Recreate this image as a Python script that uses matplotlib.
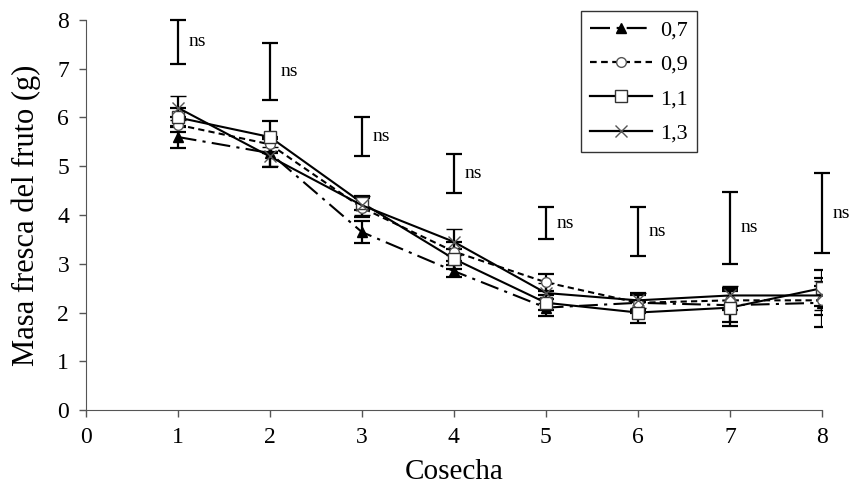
import matplotlib.pyplot as plt
from matplotlib.lines import Line2D

plt.rcParams['font.family'] = ['Liberation Serif', 'DejaVu Serif']

cosecha = [1, 2, 3, 4, 5, 6, 7, 8]

# medias por tratamiento
m07 = [5.6, 5.27, 3.65, 2.85, 2.1, 2.2, 2.15, 2.2]
m09 = [5.85, 5.45, 4.15, 3.25, 2.62, 2.2, 2.25, 2.25]
m11 = [6.0, 5.6, 4.25, 3.1, 2.2, 2.0, 2.1, 2.5]
m13 = [6.2, 5.2, 4.2, 3.45, 2.4, 2.25, 2.35, 2.35]

# errores
e07 = [0.22, 0.28, 0.22, 0.13, 0.17, 0.2, 0.35, 0.5]
e09 = [0.15, 0.15, 0.2, 0.2, 0.18, 0.15, 0.2, 0.3]
e11 = [0.2, 0.33, 0.15, 0.2, 0.15, 0.22, 0.38, 0.37]
e13 = [0.25, 0.2, 0.2, 0.26, 0.2, 0.15, 0.2, 0.3]

# barras "ns"
ns_bajo = [7.1, 6.35, 5.2, 4.45, 3.5, 3.15, 3.0, 3.22]
ns_alto = [8.0, 7.52, 6.0, 5.25, 4.17, 4.17, 4.47, 4.86]

etiquetas = ['0,7', '0,9', '1,1', '1,3']

fig = plt.figure(figsize=(8.5, 4.87), dpi=100)
ax = fig.add_axes([0.101, 0.158, 0.866, 0.801])

eb = dict(ecolor='black', elinewidth=1.6, capsize=6, capthick=1.6)

estilos = [
    dict(linestyle=(0, (9, 3, 1.5, 3)), marker='^', markersize=7,
         markerfacecolor='black', markeredgecolor='black'),
    dict(linestyle=(0, (3, 2)), marker='o', markersize=7,
         markerfacecolor='white', markeredgecolor='#555555'),
    dict(linestyle='-', marker='s', markersize=8,
         markerfacecolor='white', markeredgecolor='#333333'),
    dict(linestyle='-', marker='x', markersize=8, markeredgewidth=1.0,
         markeredgecolor='#555555'),
]

for m, e, st in zip([m07, m09, m11, m13], [e07, e09, e11, e13], estilos):
    ax.errorbar(cosecha, m, yerr=e, color='black', lw=1.5, **st, **eb)

for x, lo, hi in zip(cosecha, ns_bajo, ns_alto):
    mid = (lo + hi) / 2
    ax.errorbar([x], [mid], yerr=[[mid - lo], [hi - mid]], fmt='none',
                ecolor='black', elinewidth=1.6, capsize=6, capthick=1.6,
                clip_on=False)
    ax.text(x + 0.12, mid, 'ns', fontsize=14, va='center', ha='left')

ax.set_xlim(0, 8)
ax.set_ylim(0, 8)
ax.set_xticks(range(0, 9))
ax.set_yticks(range(0, 9))
ax.tick_params(labelsize=17, length=5, width=1, color='#555555', pad=7)
ax.set_xlabel('Cosecha', fontsize=21, labelpad=8)
ax.set_ylabel('Masa fresca del fruto (g)', fontsize=22, labelpad=12)
ax.spines['top'].set_visible(False)
ax.spines['right'].set_visible(False)
ax.spines['left'].set_color('#555555')
ax.spines['bottom'].set_color('#555555')

handles = [Line2D([], [], color='black', lw=1.6, **st) for st in estilos]
leg = ax.legend(handles, etiquetas, loc='upper right',
                bbox_to_anchor=(0.83, 1.023), borderaxespad=0, fontsize=16,
                frameon=True, fancybox=False, edgecolor='black',
                handlelength=2.8, labelspacing=0.62, borderpad=0.4,
                handletextpad=0.35)
leg.get_frame().set_linewidth(1.0)

fig.savefig('out.png', dpi=100)
